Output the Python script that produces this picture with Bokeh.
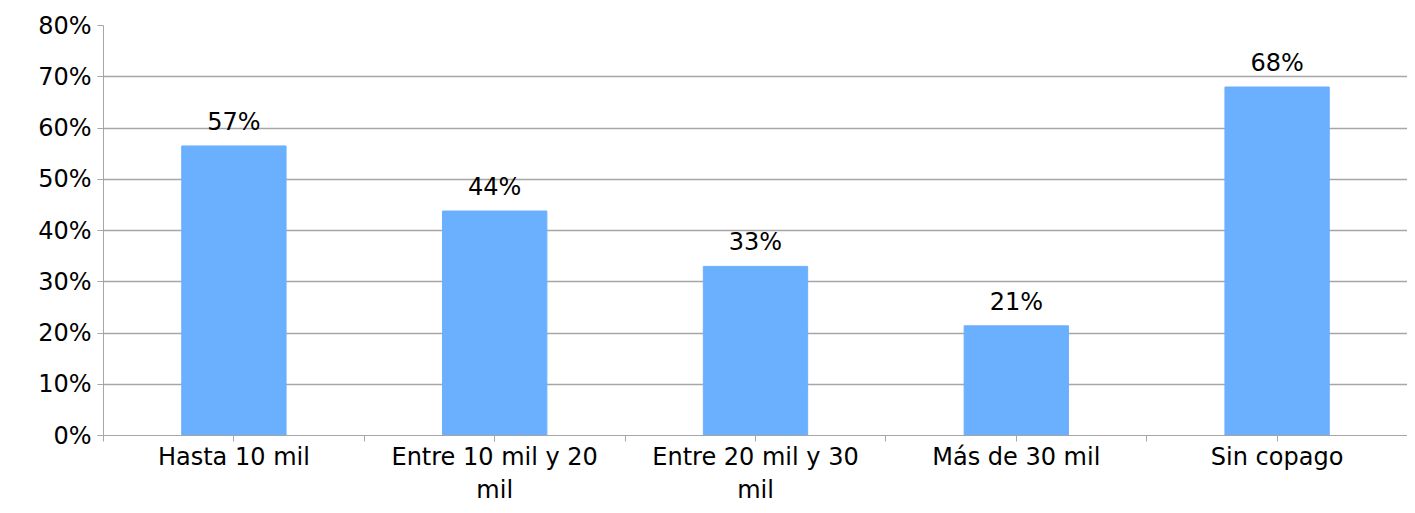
from bokeh.plotting import figure
from bokeh.models import FixedTicker, ColumnDataSource, Range1d
from bokeh.embed import file_html
from bokeh.resources import INLINE

categories = ["Hasta 10 mil", "Entre 10 mil y 20\nmil", "Entre 20 mil y 30\nmil", "Más de 30 mil", "Sin copago"]
values = [56.5, 43.8, 33.0, 21.4, 68.0]
labels = ["57%", "44%", "33%", "21%", "68%"]
yticks = [0, 10, 20, 30, 40, 50, 60, 70, 80]

xs = list(range(len(categories)))
src = ColumnDataSource(dict(x=xs, top=values, lab=labels, ly=[v + 2.0 for v in values]))

p = figure(width=1407, height=507, output_backend="svg", toolbar_location=None,
           x_range=Range1d(-0.5, 4.5), y_range=Range1d(0, 80),
           min_border_left=103, min_border_right=0, min_border_top=25, min_border_bottom=70)
p.outline_line_color = None
p.vbar(x="x", top="top", width=0.4, source=src, color="#6BAFFF")
p.text(x="x", y="ly", text="lab", source=src, text_align="center", text_baseline="bottom",
       text_font_size="24px", text_font={"value": "DejaVu Sans"}, text_color="black")

p.yaxis.ticker = FixedTicker(ticks=yticks)
p.yaxis.major_label_overrides = {t: f"{t}%" for t in yticks}
p.xaxis.ticker = FixedTicker(ticks=xs + [x + 0.5 for x in [-1] + xs])
p.xaxis.major_label_overrides = {**{x: c for x, c in zip(xs, categories)},
                                 **{x + 0.5: "" for x in [-1] + xs}}
p.xgrid.grid_line_color = None
p.ygrid.grid_line_color = "#A6A6A6"
p.ygrid.grid_line_width = 1.5
for ax in (p.xaxis, p.yaxis):
    ax.major_label_text_font = "DejaVu Sans"
    ax.major_label_text_font_size = "24px"
    ax.major_label_text_color = "black"
    ax.axis_line_color = "#A6A6A6"
    ax.major_tick_line_color = "#A6A6A6"
    ax.minor_tick_line_color = None
    ax.major_tick_out = 6
    ax.major_tick_in = 0
p.xaxis.major_label_standoff = 1
p.yaxis.major_label_standoff = 6

open("out.html", "w").write(file_html(p, INLINE))
